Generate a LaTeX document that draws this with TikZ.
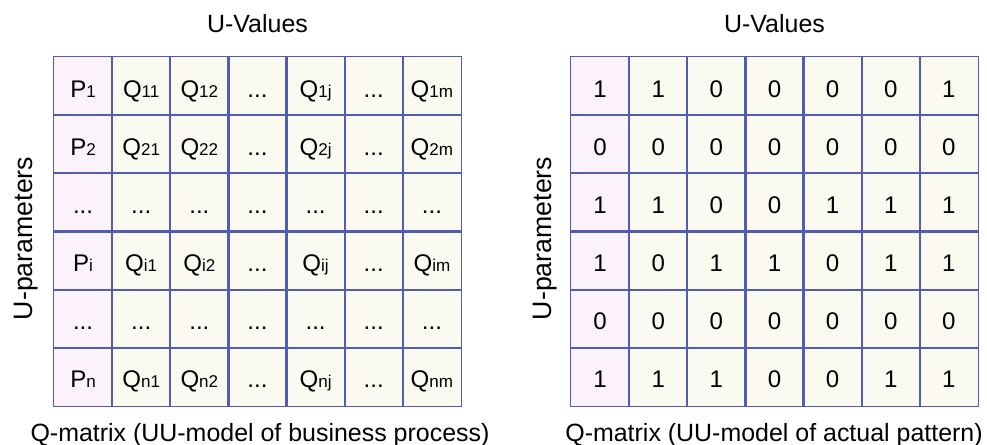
\documentclass[tikz,border=0pt]{standalone}
\usepackage{fontspec}
\setmainfont{Liberation Sans}

\definecolor{gridblue}{RGB}{82,92,180}
\definecolor{keypink}{RGB}{252,243,250}
\definecolor{cellcream}{RGB}{250,250,240}

\newcommand{\lowidx}[1]{{\fontsize{9.7}{10}\selectfont #1}}
\newcommand{\celldots}{...}

\tikzset{
  cell/.style={fill=cellcream, minimum width=1.1628cm, minimum height=1.1634cm,
    inner sep=0pt, text height=0.44cm, text depth=0pt, font=\fontsize{13.7}{16}\selectfont},
  keycell/.style={cell, fill=keypink},
  gridline/.style={draw=gridblue, line width=0.9pt},
  axistext/.style={anchor=base, inner sep=0pt, font=\fontsize{14.2}{17}\selectfont},
  sidetext/.style={axistext, rotate=90, font=\fontsize{15.2}{18}\selectfont}
}

\begin{document}
\begin{tikzpicture}[x=0.02cm, y=0.02cm]

\useasboundingbox (0,0) rectangle (987,445);

% Q-matrix of the business process
\foreach \rowtext [count=\r] in {
  {P\lowidx{1}, Q\lowidx{11}, Q\lowidx{12}, \celldots, Q\lowidx{1j}, \celldots, Q\lowidx{1m}},
  {P\lowidx{2}, Q\lowidx{21}, Q\lowidx{22}, \celldots, Q\lowidx{2j}, \celldots, Q\lowidx{2m}},
  {\celldots, \celldots, \celldots, \celldots, \celldots, \celldots, \celldots},
  {P\lowidx{i}, Q\lowidx{i1}, Q\lowidx{i2}, \celldots, Q\lowidx{ij}, \celldots, Q\lowidx{im}},
  {\celldots, \celldots, \celldots, \celldots, \celldots, \celldots, \celldots},
  {P\lowidx{n}, Q\lowidx{n1}, Q\lowidx{n2}, \celldots, Q\lowidx{nj}, \celldots, Q\lowidx{nm}}}
  \foreach \txt [count=\c] in \rowtext {
    \pgfmathsetmacro\cx{54+(\c-0.5)*58.14}
    \pgfmathsetmacro\cy{388-(\r-0.5)*58.17}
    \ifnum\c=1 \def\cstyle{keycell}\else\def\cstyle{cell}\fi
    \node[\cstyle] (L-\r-\c) at (\cx,\cy) {\txt};
  }

% Q-matrix of the actual pattern
\foreach \rowtext [count=\r] in {
  {1,1,0,0,0,0,1},
  {0,0,0,0,0,0,0},
  {1,1,0,0,1,1,1},
  {1,0,1,1,0,1,1},
  {0,0,0,0,0,0,0},
  {1,1,1,0,0,1,1}}
  \foreach \txt [count=\c] in \rowtext {
    \pgfmathsetmacro\cx{571+(\c-0.5)*58.14}
    \pgfmathsetmacro\cy{388-(\r-0.5)*58.17}
    \ifnum\c=1 \def\cstyle{keycell}\else\def\cstyle{cell}\fi
    \node[\cstyle] (R-\r-\c) at (\cx,\cy) {\txt};
  }

% cell borders on top of the fills
\foreach \r in {1,...,6}
  \foreach \c in {1,...,7} {
    \draw[gridline] (L-\r-\c.south west) rectangle (L-\r-\c.north east);
    \draw[gridline] (R-\r-\c.south west) rectangle (R-\r-\c.north east);
  }

\node[axistext] (lvalues) at (257.5,412) {U-Values};
\node[sidetext] (lparams) at (32.7,206.5) {U-parameters};
\node[axistext] (lcaption) at (260,3) {Q-matrix (UU-model of business process)};

\node[axistext] (rvalues) at (774.5,412) {U-Values};
\node[sidetext] (rparams) at (551.7,206.5) {U-parameters};
\node[axistext] (rcaption) at (774,3) {Q-matrix (UU-model of actual pattern)};

\end{tikzpicture}
\end{document}
